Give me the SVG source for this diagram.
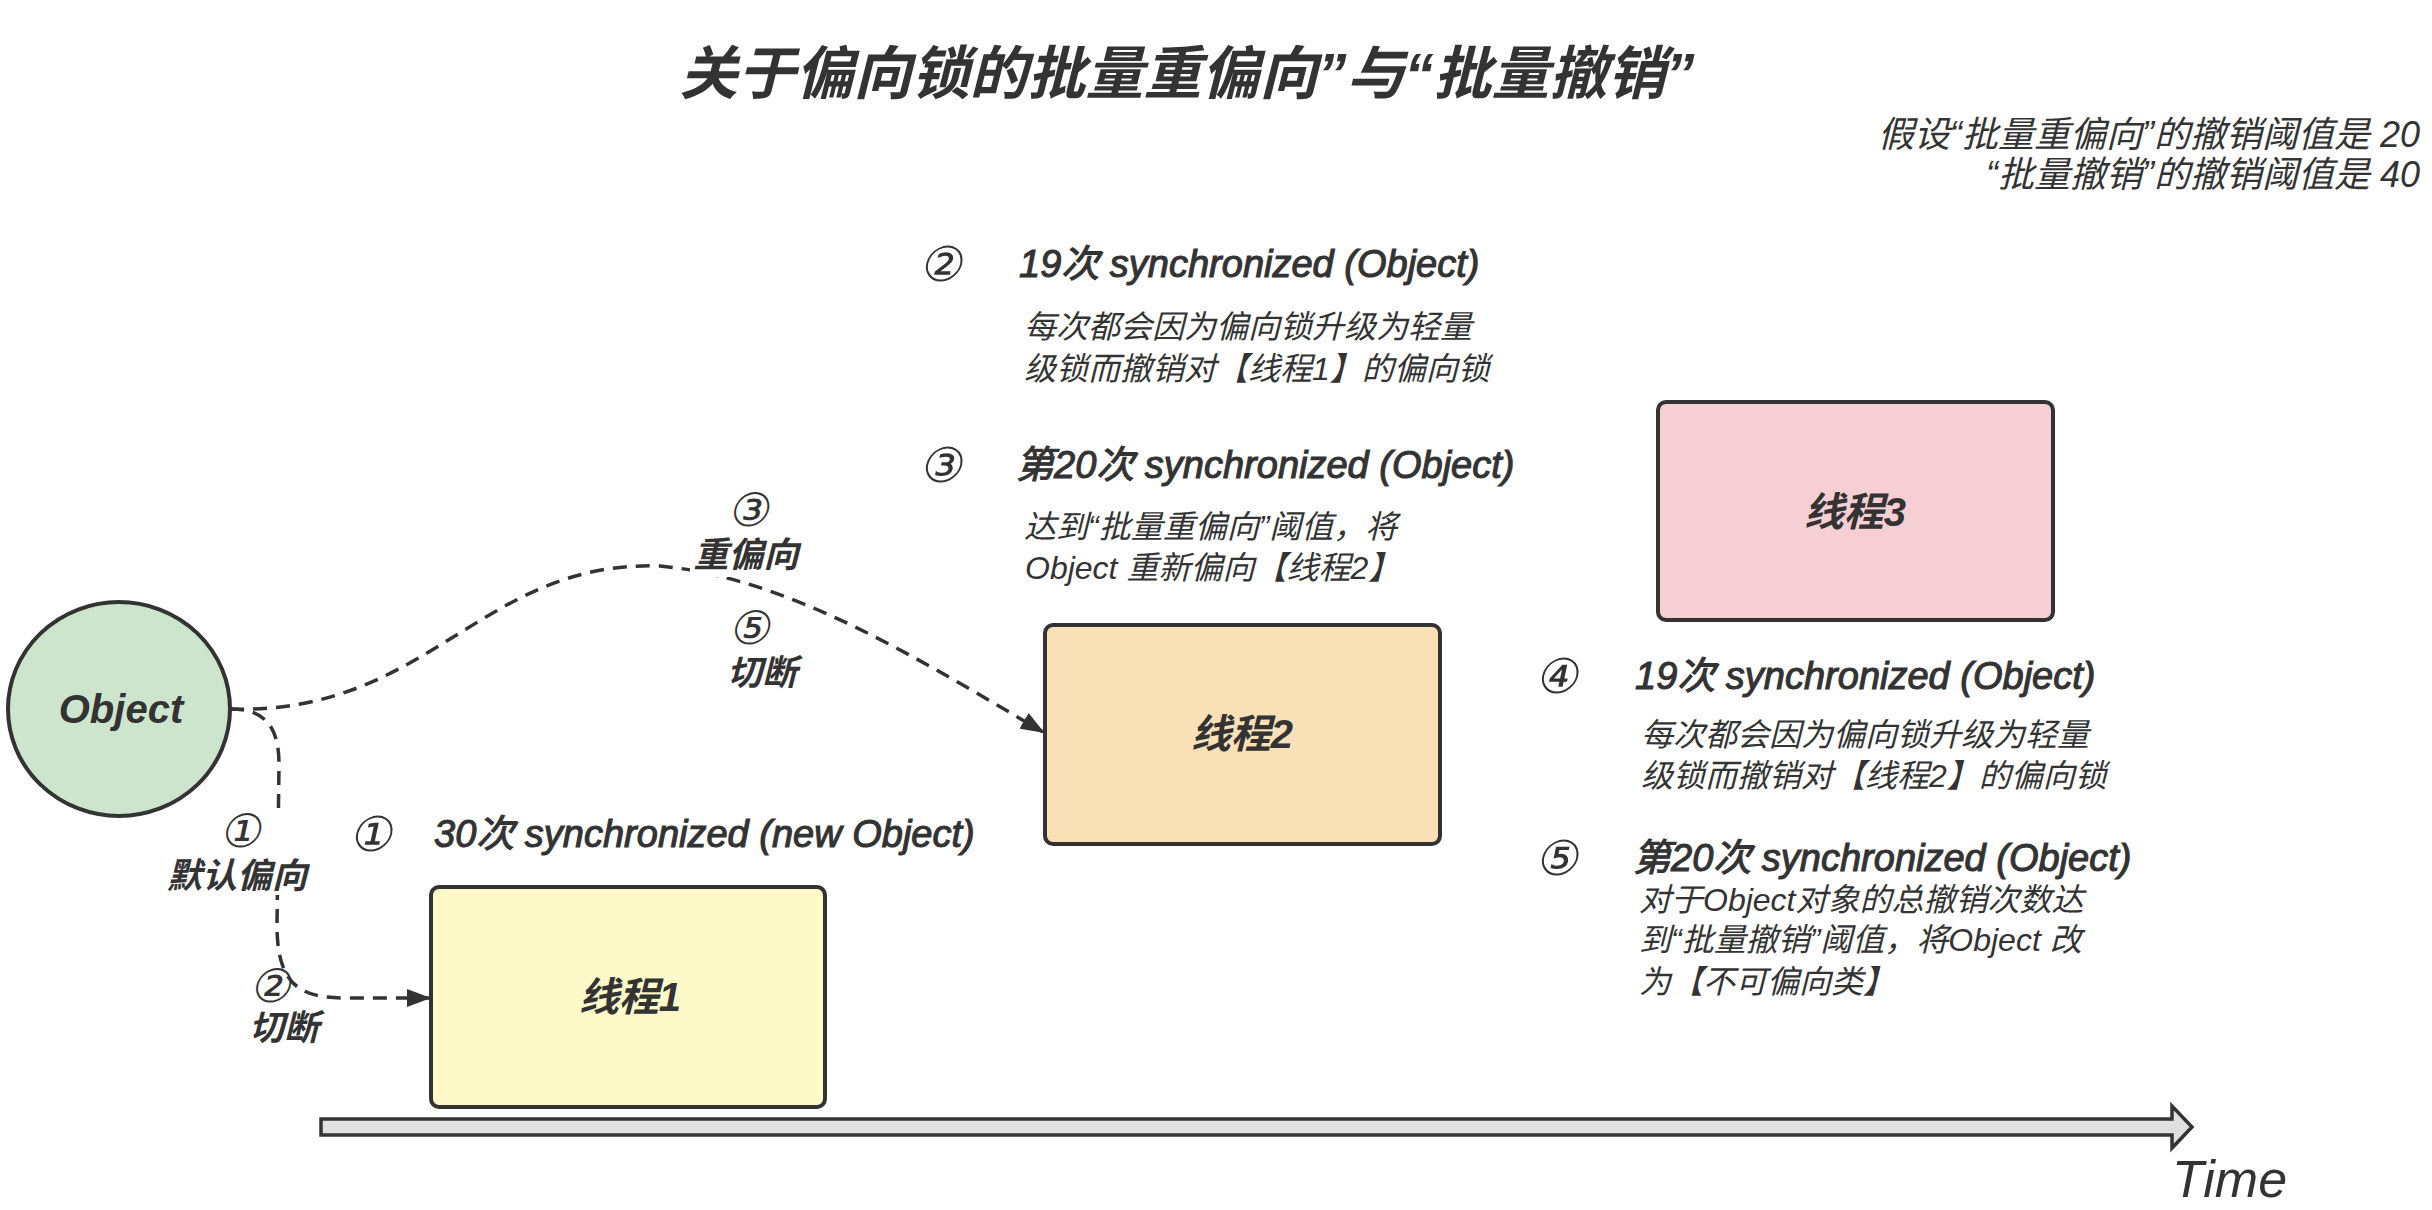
<svg xmlns="http://www.w3.org/2000/svg" width="2432" height="1210" viewBox="0 0 2432 1210">
<style>
.t{font-family:"Liberation Sans","Noto Sans CJK SC",sans-serif;fill:#333;font-style:italic}
.title{font-size:58px;font-weight:700;text-anchor:middle}
.note{font-size:36px;text-anchor:end}
.head{font-size:38px;stroke:#333;stroke-width:1.1px}
.num{font-family:"DejaVu Sans","Noto Sans CJK SC",sans-serif;font-size:48px;font-style:normal;fill:#333}
.desc{font-size:32px}
.lbl{font-size:35px;font-weight:700;text-anchor:middle}
.lnum{font-family:"DejaVu Sans","Noto Sans CJK SC",sans-serif;font-size:46px;font-style:normal;fill:#333;text-anchor:middle}
.nl{font-size:40px;font-weight:700;text-anchor:middle}
.box{stroke:#333;stroke-width:4}
.conn{fill:none;stroke:#333;stroke-width:3.5;stroke-dasharray:14 9}
</style>
<defs>
<marker id="arr" viewBox="0 0 24 18" refX="22" refY="9" markerWidth="24" markerHeight="18" markerUnits="userSpaceOnUse" orient="auto">
<path d="M0,0 L24,9 L0,18 Z" fill="#333"/>
</marker>
</defs>
<rect width="2432" height="1210" fill="#fff"/>

<text class="t title" x="1187" y="94">关于偏向锁的批量重偏向”与“批量撤销”</text>
<text class="t note" x="2420" y="147">假设“批量重偏向”的撤销阈值是 20</text>
<text class="t note" x="2420" y="187">“批量撤销”的撤销阈值是 40</text>

<g id="connectors">
<path class="conn" d="M230,709 C268,709 279,730 279,765 L277,925 C277,985 300,998 345,998 L429,998" marker-end="url(#arr)"/>
<path class="conn" d="M230,709 C430,715 480,560 660,566 C790,578 920,660 1043,732" marker-end="url(#arr)"/>
<rect x="185" y="812" width="120" height="83" fill="#fff"/>
<rect x="690" y="492" width="112" height="85" fill="#fff"/>
<text class="lnum" transform="translate(240,847) skewX(-12)">①</text>
<text class="t lbl" x="237" y="888">默认偏向</text>
<text class="lnum" transform="translate(270,1002) skewX(-12)">②</text>
<text class="t lbl" x="284" y="1040">切断</text>
<text class="lnum" transform="translate(748,526) skewX(-12)">③</text>
<text class="t lbl" x="746" y="567">重偏向</text>
<text class="lnum" transform="translate(749,644) skewX(-12)">⑤</text>
<text class="t lbl" x="762" y="685">切断</text>
</g>

<g id="object">
<ellipse class="box" cx="119" cy="709" rx="111" ry="107" fill="#cce5cc"/>
<text class="t nl" x="121" y="723">Object</text>
</g>

<g id="thread1">
<rect class="box" x="431" y="887" width="394" height="220" rx="8" fill="#fef9c8"/>
<text class="t nl" x="630" y="1011">线程1</text>
</g>

<g id="thread2">
<rect class="box" x="1045" y="625" width="395" height="219" rx="8" fill="#f9e0b6"/>
<text class="t nl" x="1242" y="748">线程2</text>
</g>

<g id="thread3">
<rect class="box" x="1658" y="402" width="395" height="218" rx="8" fill="#f6cfd4"/>
<text class="t nl" x="1855" y="526">线程3</text>
</g>

<g id="step1">
<text class="num" transform="translate(349,851) skewX(-12)">①</text>
<text class="t head" x="434" y="847">30次 synchronized (new Object)</text>
</g>

<g id="step2">
<text class="num" transform="translate(919,281) skewX(-12)">②</text>
<text class="t head" x="1019" y="277">19次 synchronized (Object)</text>
<text class="t desc" x="1024" y="338">每次都会因为偏向锁升级为轻量</text>
<text class="t desc" x="1024" y="380">级锁而撤销对【线程1】的偏向锁</text>
</g>

<g id="step3">
<text class="num" transform="translate(919,482) skewX(-12)">③</text>
<text class="t head" x="1016" y="478">第20次 synchronized (Object)</text>
<text class="t desc" x="1024" y="538">达到“批量重偏向”阈值，将</text>
<text class="t desc" x="1025" y="579">Object 重新偏向【线程2】</text>
</g>

<g id="step4">
<text class="num" transform="translate(1535,693) skewX(-12)">④</text>
<text class="t head" x="1635" y="689">19次 synchronized (Object)</text>
<text class="t desc" x="1641" y="746">每次都会因为偏向锁升级为轻量</text>
<text class="t desc" x="1641" y="787">级锁而撤销对【线程2】的偏向锁</text>
</g>

<g id="step5">
<text class="num" transform="translate(1535,875) skewX(-12)">⑤</text>
<text class="t head" x="1633" y="871">第20次 synchronized (Object)</text>
<text class="t desc" x="1639" y="911">对于Object对象的总撤销次数达</text>
<text class="t desc" x="1639" y="951">到“批量撤销”阈值，将Object 改</text>
<text class="t desc" x="1639" y="993">为【不可偏向类】</text>
</g>

<g id="timeline">
<polygon points="321,1119 2172,1119 2172,1106 2192,1127 2172,1148 2172,1135 321,1135" fill="#e0e0e0" stroke="#333" stroke-width="3.5" stroke-linejoin="miter"/>
<text class="t" x="2172" y="1197" style="font-size:52px">Time</text>
</g>
</svg>
